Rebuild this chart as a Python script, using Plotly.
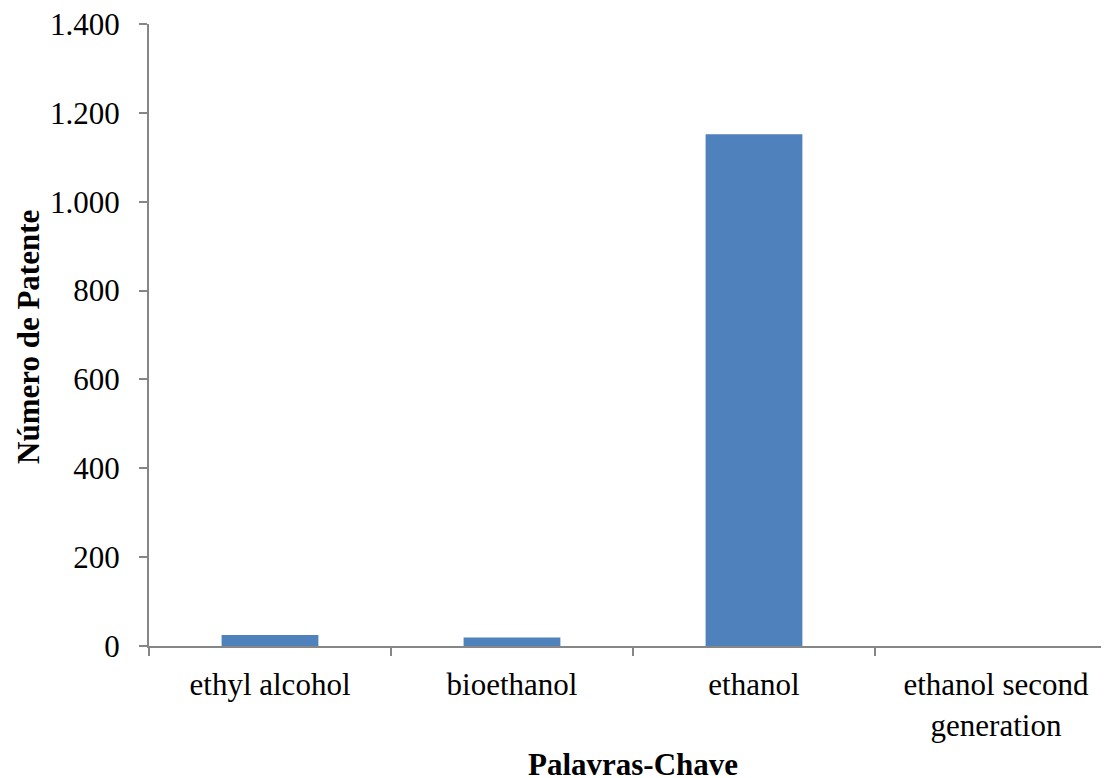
import plotly.graph_objects as go

categories = ["ethyl alcohol", "bioethanol", "ethanol", "ethanol second<br>generation"]
patents = [25, 19, 1152, 0]
y_ticks = [0, 200, 400, 600, 800, 1000, 1200, 1400]

FONT = "Liberation Serif"
AXIS_COLOR = "#868686"

fig = go.Figure(
    go.Bar(
        x=categories,
        y=patents,
        marker=dict(color="#4F81BD", line=dict(width=0)),
    )
)

# page has an 8px body margin, so the figure is sized/offset accordingly
fig.update_layout(
    width=1101,
    height=770,
    margin=dict(l=141, r=0, t=16, b=132),
    paper_bgcolor="white",
    plot_bgcolor="white",
    bargap=0.6,
    separators=",.",
    showlegend=False,
    font=dict(family=FONT, size=31, color="black"),
)

fig.update_xaxes(
    range=[-0.5, 3.467],
    showline=True,
    linecolor=AXIS_COLOR,
    linewidth=2,
    ticks="outside",
    tickson="boundaries",
    ticklen=8,
    tickwidth=2,
    tickcolor=AXIS_COLOR,
    showgrid=False,
    tickfont=dict(family=FONT, size=31, color="black"),
    ticklabelstandoff=10,
    ticklabeloverflow="allow",
)

fig.update_yaxes(
    range=[0, 1400],
    tickvals=y_ticks,
    tickformat=",d",
    showline=True,
    linecolor=AXIS_COLOR,
    linewidth=2,
    ticks="outside",
    ticklen=8,
    tickwidth=2,
    tickcolor=AXIS_COLOR,
    showgrid=False,
    zeroline=False,
    tickfont=dict(family=FONT, size=31, color="black"),
    ticklabelstandoff=13,
    ticklabeloverflow="allow",
)

fig.add_annotation(
    text="<b>Palavras-Chave</b>",
    xref="paper", yref="paper",
    x=(625 - 141) / 960, y=-(756 - 638) / 622,
    xanchor="center", yanchor="middle",
    showarrow=False,
    font=dict(family=FONT, size=31, color="black"),
)

fig.add_annotation(
    text="<b>Número de Patente</b>",
    xref="paper", yref="paper",
    x=(20 - 141) / 960, y=(638 - 329) / 622,
    xanchor="center", yanchor="middle",
    textangle=-90,
    showarrow=False,
    font=dict(family=FONT, size=31, color="black"),
)

fig.write_html("out.html")
